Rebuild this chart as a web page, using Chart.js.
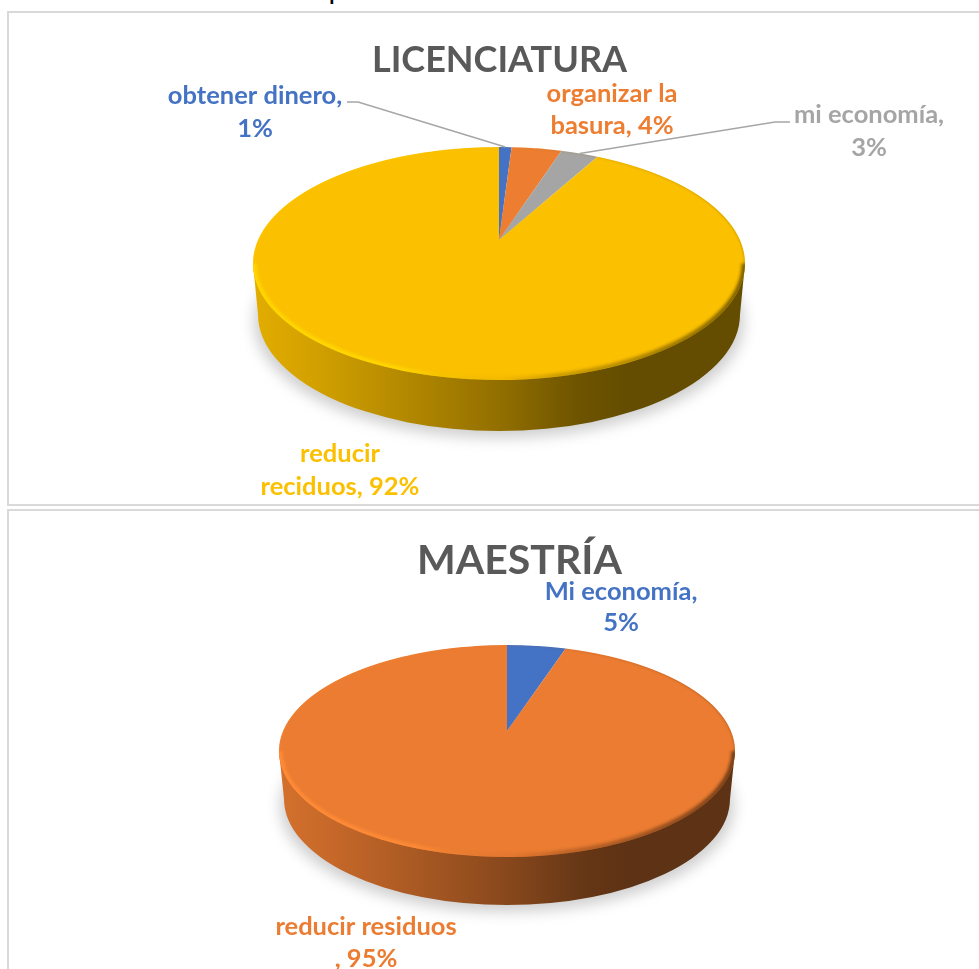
<!DOCTYPE html>
<html lang="es">
<head>
<meta charset="utf-8">
<title>Lo más importante de reciclar</title>
<script src="https://cdn.jsdelivr.net/npm/chart.js@4/dist/chart.umd.min.js"></script>
<style>
  html, body { margin: 0; padding: 0; background: #fff; width: 979px; height: 969px; overflow: hidden; }
  .caption { position: absolute; left: 17px; top: -21px; font: bold 21px Lato, sans-serif; color: #000; white-space: nowrap; letter-spacing: .9px; word-spacing: 3px; }
  .panel { position: absolute; left: 7px; width: 990px; border: 2px solid #d9d9d9; box-sizing: border-box; }
  canvas { position: absolute; left: 0; }
</style>
</head>
<body>
<div class="caption">Ilustración 9. sobre lo más importante reciclar</div>
<div class="panel" style="top:11px;height:495px"></div>
<div class="panel" style="top:509px;height:500px"></div>
<canvas id="licenciatura" style="top:0" width="979" height="508"></canvas>
<canvas id="maestria" style="top:508px" width="979" height="461"></canvas>
<script>
// Licenciatura responses
const licCategories = ['obtener dinero', 'organizar la basura', 'mi economía', 'reducir reciduos'];
const licValues = [1, 4, 3, 92];
const licColors = ['#4472C4', '#ED7D31', '#A5A5A5', '#FBC000'];
const licBreaks = [15, 12, 12, 7];

// Maestría responses
const maeCategories = ['Mi economía', 'reducir residuos'];
const maeValues = [5, 95];
const maeColors = ['#4472C4', '#EB7C31'];
const maeBreaks = [12, 16];

const FONT_FAMILY = 'Lato, sans-serif';

function shade(hex, f) {
  const n = parseInt(hex.slice(1), 16);
  const c = [n >> 16, (n >> 8) & 255, n & 255].map(v => Math.min(255, Math.round(v * f)));
  return `rgb(${c[0]},${c[1]},${c[2]})`;
}
function shadeA(hex, f, a) {
  return shade(hex, f).replace('rgb(', 'rgba(').replace(')', `,${a})`);
}

// Perspective camera for a disc seen from the front: the rim is an ellipse and
// the disc centre projects behind the ellipse centre.
function camera(o) {
  const k = (o.rear - o.front) / (o.rear + o.front);
  const B = o.rear * (1 - k);
  const A = o.halfWidth * Math.sqrt(1 - k * k);
  return { k, A, B,
    project(u, v) {
      const w = 1 + k * v;
      return { x: o.apexX + A * u / w, y: o.apexY + B * v / w };
    }
  };
}

const tiltedPie = {
  id: 'tiltedPie',
  beforeDatasetDraw(chart, args, o) {
    const ctx = chart.ctx;
    const cam = camera(o);
    const arcs = chart.getDatasetMeta(0).data;
    const top = o.apexY - o.rear, bottom = o.apexY + o.front;
    const cy = (top + bottom) / 2, ry = (bottom - top) / 2;

    // the slice facing the viewer colours the visible wall
    const front = arcs.find(a => {
      const t = Math.PI / 2;
      return a.startAngle <= t && a.endAngle >= t;
    });
    const base = front.options.backgroundColor;

    // soft ground shadow
    ctx.save();
    ctx.filter = 'blur(7px)';
    ctx.fillStyle = 'rgba(0,0,0,0.19)';
    ctx.beginPath();
    ctx.ellipse(o.apexX, cy + o.wallDepth + 7, o.halfWidth - 1, ry, 0, 0, Math.PI * 2);
    ctx.fill();
    ctx.restore();

    // side wall
    const rx2 = o.halfWidth - o.wallInset;
    const g = ctx.createLinearGradient(o.apexX - o.halfWidth, 0, o.apexX + o.halfWidth, 0);
    [[0, .9], [.12, .84], [.3, .72], [.5, .58], [.66, .44], [.76, .4], [1, .4]]
      .forEach(([s, f]) => g.addColorStop(s, shade(base, f)));
    ctx.save();
    ctx.fillStyle = g;
    ctx.beginPath();
    ctx.moveTo(o.apexX - o.halfWidth, cy);
    ctx.lineTo(o.apexX - rx2, cy + o.wallDepth);
    ctx.ellipse(o.apexX, cy + o.wallDepth, rx2, ry, 0, Math.PI, 0, true);
    ctx.lineTo(o.apexX + o.halfWidth, cy);
    ctx.closePath();
    ctx.fill();
    ctx.restore();

    // top face: each pixel row shows the library's arcs under the row's affine
    // approximation of the camera
    const cx0 = arcs[0].x, cy0 = arcs[0].y, R = arcs[0].outerRadius;
    for (let row = Math.floor(top) - 1; row <= Math.ceil(bottom) + 1; row++) {
      const off = row + 0.5 - o.apexY;
      const v = off / (cam.B - cam.k * off);
      if (v < -1.03 || v > 1.03) continue;
      const w = 1 + cam.k * v;
      const a = cam.A / (w * R), d = cam.B / (w * w * R);
      ctx.save();
      ctx.beginPath();
      ctx.rect(0, row, chart.width, 1);
      ctx.clip();
      ctx.setTransform(a, 0, 0, d, o.apexX - a * cx0, row + 0.5 - d * (cy0 + v * R));
      arcs.forEach(el => el.draw(ctx));
      ctx.restore();
    }

    // bevel along the rim of the top face
    const rim = ctx.createLinearGradient(o.apexX - o.halfWidth, 0, o.apexX + o.halfWidth, 0);
    rim.addColorStop(0, shadeA(base, 1.12, 1));
    rim.addColorStop(.3, shadeA(base, 1.12, .9));
    rim.addColorStop(.5, shadeA(base, .9, .3));
    rim.addColorStop(.62, shadeA(base, .6, .45));
    rim.addColorStop(1, shadeA(base, .45, .9));
    ctx.save();
    ctx.beginPath();
    ctx.ellipse(o.apexX, cy, o.halfWidth, ry, 0, 0, Math.PI * 2);
    ctx.clip();
    ctx.strokeStyle = rim;
    ctx.filter = 'blur(0.8px)';
    ctx.globalAlpha = 0.45;
    ctx.lineWidth = 1.5;
    ctx.beginPath();
    ctx.ellipse(o.apexX, cy, o.halfWidth, ry, 0, Math.PI, Math.PI * 2);
    ctx.stroke();
    ctx.globalAlpha = 1;
    ctx.filter = 'blur(1.8px)';
    ctx.lineWidth = 7;
    ctx.beginPath();
    ctx.ellipse(o.apexX, cy, o.halfWidth, ry, 0, 0, Math.PI);
    ctx.stroke();
    ctx.restore();
    return false;
  },
  afterDraw(chart, args, o) {
    const ctx = chart.ctx;
    const cam = camera(o);
    const arcs = chart.getDatasetMeta(0).data;
    const labels = chart.data.labels;
    const values = chart.data.datasets[0].data;
    ctx.save();
    // leader lines
    o.labels.forEach((l, i) => {
      if (!l.leader) return;
      const mid = (arcs[i].startAngle + arcs[i].endAngle) / 2;
      const end = cam.project(Math.cos(mid), Math.sin(mid));
      ctx.strokeStyle = '#a6a6a6';
      ctx.lineWidth = 1.5;
      ctx.beginPath();
      ctx.moveTo(l.leader[0], l.leader[1]);
      ctx.lineTo(l.leader[2], l.leader[1]);
      ctx.lineTo(end.x, end.y);
      ctx.stroke();
    });
    // data labels: category, value
    ctx.font = `bold ${o.labelSize}px ${FONT_FAMILY}`;
    ctx.textAlign = 'center';
    ctx.textBaseline = 'middle';
    o.labels.forEach((l, i) => {
      const text = `${labels[i]}, ${values[i]}%`;
      const brk = o.breaks[i];
      ctx.fillStyle = chart.data.datasets[0].backgroundColor[i];
      ctx.fillText(text.slice(0, brk).trim(), l.x, l.y1);
      ctx.fillText(text.slice(brk).trim(), l.x, l.y2);
    });
    ctx.restore();
  }
};

function pieChart(id, title, titleSize, categories, values, colors, titlePad, leftPad, tilt) {
  return new Chart(document.getElementById(id), {
    type: 'pie',
    data: { labels: categories, datasets: [{ data: values, backgroundColor: colors, borderWidth: 0 }] },
    plugins: [tiltedPie],
    options: {
      responsive: false,
      animation: false,
      events: [],
      layout: { padding: { left: leftPad } },
      plugins: {
        legend: { display: false },
        tooltip: { enabled: false },
        title: {
          display: true,
          text: title,
          color: '#595959',
          font: { family: FONT_FAMILY, size: titleSize, weight: 'bold' },
          padding: { top: titlePad, bottom: 10 }
        },
        tiltedPie: tilt
      }
    }
  });
}

pieChart('licenciatura', 'LICENCIATURA', 36, licCategories, licValues, licColors, 39, 20, {
  apexX: 499, apexY: 240, rear: 93, front: 140, halfWidth: 246, wallDepth: 51, wallInset: 5,
  labelSize: 25.5, breaks: licBreaks,
  labels: [
    { x: 255, y1: 96, y2: 129, leader: [347, 102, 358] },
    { x: 612, y1: 94, y2: 126 },
    { x: 869, y1: 115, y2: 148, leader: [790, 122, 775] },
    { x: 340, y1: 454, y2: 487 }
  ]
});

pieChart('maestria', 'MAESTRÍA', 41, maeCategories, maeValues, maeColors, 28, 60, {
  apexX: 507, apexY: 223, rear: 86, front: 126, halfWidth: 228, wallDepth: 48, wallInset: 5,
  labelSize: 25.5, breaks: maeBreaks,
  labels: [
    { x: 621, y1: 84, y2: 115 },
    { x: 366, y1: 419, y2: 451 }
  ]
});
</script>
</body>
</html>
